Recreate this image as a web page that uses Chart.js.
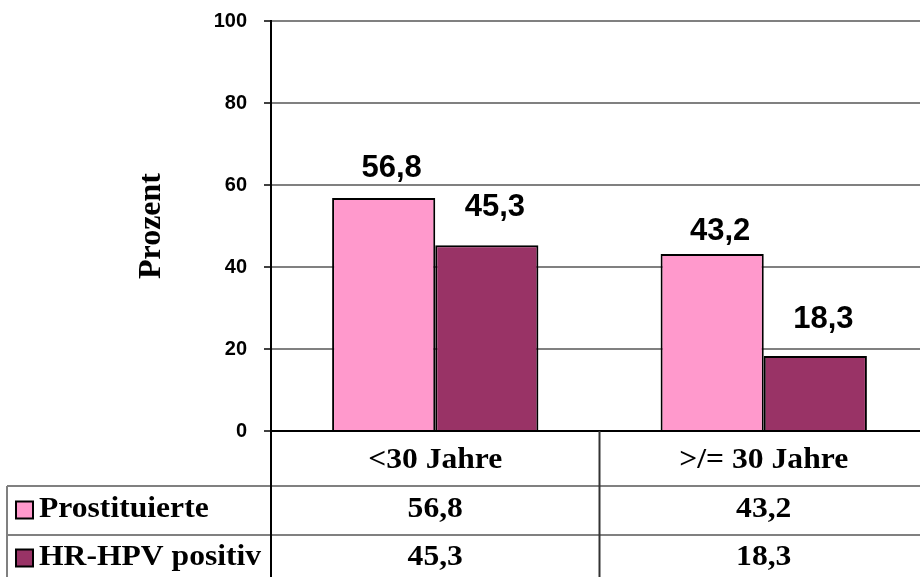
<!DOCTYPE html>
<html>
<head>
<meta charset="utf-8">
<script src="https://cdn.jsdelivr.net/npm/chart.js@4/dist/chart.umd.min.js"></script>
<style>
  html, body { margin: 0; padding: 0; background: #ffffff; overflow: hidden; }
  canvas { display: block; }
</style>
</head>
<body>
<canvas id="c" width="928" height="577"></canvas>
<script>
// Age groups, series and values
const categories = ['<30 Jahre', '>/= 30 Jahre'];
const seriesNames = ['Prostituierte', 'HR-HPV positiv'];
const prostituierte = [56.8, 43.2];
const hrHpvPositiv = [45.3, 18.3];
const yTicks = [0, 20, 40, 60, 80, 100];

const SANS = '"Liberation Sans", Arial, sans-serif';
const SERIF = '"Liberation Serif", "Times New Roman", serif';
const seriesColors = ['#FF99CC', '#993366'];
const fmt = v => v.toFixed(1).replace('.', ',');

// Value labels above the bars plus the data table underneath the plot
const dataTablePlugin = {
  id: 'dataTable',
  afterDraw(chart, args, opts) {
    const ctx = chart.ctx;
    const area = chart.chartArea;
    const xs = chart.scales.x;
    const series = [prostituierte, hrHpvPositiv];
    const W = chart.width, H = chart.height;

    ctx.save();

    // value labels
    ctx.font = 'bold 31px ' + SANS;
    ctx.fillStyle = '#000';
    ctx.textAlign = 'center';
    ctx.textBaseline = 'middle';
    series.forEach((vals, i) => {
      chart.getDatasetMeta(i).data.forEach((bar, j) => {
        ctx.fillText(fmt(vals[j]), bar.x + opts.labelShift, bar.y - opts.labelLift[i][j]);
      });
    });

    // table grid
    const rowLines = opts.rowLines;
    const centers = categories.map((_, j) => xs.getPixelForValue(j));
    const split = (centers[0] + centers[1]) / 2;

    ctx.lineWidth = 2;
    ctx.strokeStyle = '#808080';
    ctx.beginPath();
    rowLines.forEach(y => { ctx.moveTo(opts.tableLeft, y); ctx.lineTo(W, y); });
    ctx.moveTo(opts.tableLeft, rowLines[0]);
    ctx.lineTo(opts.tableLeft, H);
    ctx.stroke();

    ctx.strokeStyle = '#000';
    ctx.beginPath();
    ctx.moveTo(area.left, area.bottom);
    ctx.lineTo(W, area.bottom);
    ctx.moveTo(area.left, area.bottom);
    ctx.lineTo(area.left, H);
    ctx.stroke();

    ctx.strokeStyle = '#333';
    ctx.beginPath();
    ctx.moveTo(split, area.bottom);
    ctx.lineTo(split, H);
    ctx.stroke();

    // table text (slightly widened serif)
    const sx = opts.textStretch;
    const drawText = (txt, x, y, align) => {
      ctx.save();
      ctx.translate(x, y);
      ctx.scale(sx, 1);
      ctx.textAlign = align;
      ctx.fillText(txt, 0, 0);
      ctx.restore();
    };
    ctx.font = 'bold 29px ' + SERIF;
    ctx.fillStyle = '#000';
    ctx.textBaseline = 'middle';

    categories.forEach((cat, j) => drawText(cat, centers[j], opts.rowCenters[0], 'center'));
    series.forEach((vals, i) => {
      const y = opts.rowCenters[i + 1];
      vals.forEach((v, j) => drawText(fmt(v), centers[j], y, 'center'));
      // legend key
      ctx.fillStyle = seriesColors[i];
      ctx.fillRect(opts.keyX, y - opts.keySize / 2, opts.keySize, opts.keySize);
      ctx.strokeStyle = '#000';
      ctx.lineWidth = 2;
      ctx.strokeRect(opts.keyX, y - opts.keySize / 2, opts.keySize, opts.keySize);
      ctx.fillStyle = '#000';
      drawText(seriesNames[i], opts.keyX + opts.keySize + 6, y, 'left');
    });

    ctx.restore();
  }
};

new Chart(document.getElementById('c'), {
  type: 'bar',
  data: {
    labels: categories,
    datasets: [
      {
        label: seriesNames[0],
        data: prostituierte,
        backgroundColor: seriesColors[0],
        borderColor: '#000',
        borderWidth: 2
      },
      {
        label: seriesNames[1],
        data: hrHpvPositiv,
        backgroundColor: seriesColors[1],
        borderColor: '#000',
        borderWidth: 2
      }
    ]
  },
  options: {
    responsive: false,
    animation: false,
    events: [],
    categoryPercentage: 0.628,
    barPercentage: 1.0,
    layout: { padding: { top: 21, right: 0, bottom: 146, left: 0 } },
    plugins: {
      legend: { display: false },
      tooltip: { enabled: false },
      dataTable: {
        labelShift: 8,
        labelLift: [[30, 22], [38, 37]],
        tableLeft: 7,
        rowLines: [486, 535],
        rowCenters: [461, 510, 558],
        keyX: 16,
        keySize: 17,
        textStretch: 1.09
      }
    },
    scales: {
      x: {
        type: 'category',
        display: false
      },
      y: {
        min: 0,
        max: 100,
        afterBuildTicks: s => { s.ticks = yTicks.map(v => ({ value: v })); },
        afterFit: s => {
          s.width = 271;
          s.paddingTop = 0;
          s.paddingBottom = 0;
        },
        ticks: {
          color: '#000',
          padding: 17,
          font: { family: SANS, size: 20, weight: 'bold' }
        },
        grid: {
          color: '#808080',
          lineWidth: 2,
          drawTicks: true,
          tickLength: 7,
          tickColor: '#000',
          tickWidth: 1.5
        },
        border: { display: true, color: '#000', width: 2 },
        title: {
          display: true,
          text: 'Prozent',
          color: '#000',
          font: { family: SERIF, size: 32, weight: 'bold' },
          padding: { top: 133, bottom: 0 }
        }
      }
    }
  },
  plugins: [dataTablePlugin]
});
</script>
</body>
</html>
